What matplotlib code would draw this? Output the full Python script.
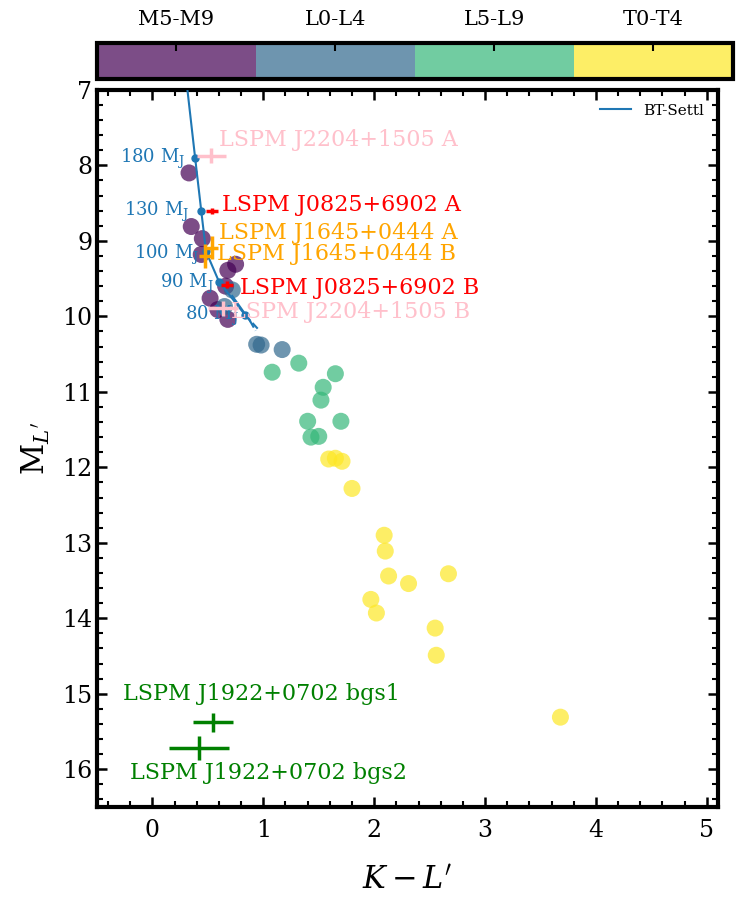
import numpy as np
import matplotlib
matplotlib.use("Agg")
import matplotlib.pyplot as plt
from matplotlib.colors import ListedColormap, BoundaryNorm

plt.rcParams['font.family'] = ['DejaVu Serif']
plt.rcParams['mathtext.fontset'] = 'dejavuserif'

# field dwarfs: K-L' colour, absolute L' magnitude, spectral class index
spt_names = ['M5-M9', 'L0-L4', 'L5-L9', 'T0-T4']
kl_m = [0.33, 0.35, 0.45, 0.44, 0.75, 0.68, 0.66, 0.52, 0.59, 0.68]
ml_m = [8.10, 8.81, 8.97, 9.18, 9.31, 9.39, 9.60, 9.76, 9.91, 10.04]
kl_l0 = [0.72, 0.65, 0.94, 0.98, 1.17]
ml_l0 = [9.65, 9.87, 10.37, 10.38, 10.44]
kl_l5 = [1.08, 1.32, 1.65, 1.54, 1.52, 1.40, 1.70, 1.43, 1.50]
ml_l5 = [10.74, 10.62, 10.76, 10.94, 11.11, 11.39, 11.39, 11.60, 11.59]
kl_t = [1.59, 1.65, 1.71, 1.80, 2.09, 2.10, 2.13, 2.31, 2.67, 1.97, 2.02, 2.55, 2.56, 3.68]
ml_t = [11.89, 11.88, 11.92, 12.28, 12.90, 13.11, 13.44, 13.54, 13.41, 13.75, 13.93, 14.13, 14.49, 15.31]

# BT-Settl track
track_kl = [0.30, 0.385, 0.44, 0.483, 0.60, 0.835]
track_ml = [6.8, 7.90, 8.60, 9.14, 9.54, 9.98]
track_mass = [None, 180, 130, 100, 90, 80]
track_end_kl = [0.835, 0.96]
track_end_ml = [9.98, 10.18]
track2_kl = [0.72, 0.88]
track2_ml = [9.73, 10.06]
track2_end_kl = [0.88, 0.93]
track2_end_ml = [10.06, 10.19]

# targets with error bars
tgt_names = ['LSPM J2204+1505 A', 'LSPM J0825+6902 A', 'LSPM J1645+0444 A',
             'LSPM J1645+0444 B', 'LSPM J0825+6902 B', 'LSPM J2204+1505 B',
             'LSPM J1922+0702 bgs1', 'LSPM J1922+0702 bgs2']
tgt_kl = [0.53, 0.535, 0.537, 0.477, 0.67, 0.633, 0.55, 0.42]
tgt_ml = [7.87, 8.61, 9.09, 9.20, 9.58, 9.89, 15.38, 15.72]
tgt_xerr = [0.13, 0.055, 0.05, 0.06, 0.055, 0.135, 0.18, 0.275]
tgt_yerr = [0.10, 0.04, 0.155, 0.155, 0.05, 0.10, 0.12, 0.16]
tgt_colors = ['pink', 'red', 'orange', 'orange', 'red', 'pink', 'green', 'green']

# label placement (layout only)
lbl_pos = [(0.60, 7.67, 'left'), (0.63, 8.53, 'left'), (0.60, 8.89, 'left'),
           (0.585, 9.17, 'left'), (0.79, 9.62, 'left'), (0.71, 9.94, 'left'),
           (0.98, 15.0, 'center'), (1.05, 16.05, 'center')]
mass_lbl_pos = [None, (0.30, 7.92), (0.33, 8.62), (0.42, 9.18), (0.55, 9.57), (0.78, 9.99)]

vir = plt.get_cmap('viridis')
cmap = ListedColormap([vir(v) for v in np.linspace(0, 1, 4)])
norm = BoundaryNorm([-0.5, 0.5, 1.5, 2.5, 3.5], 4)

kl_all = kl_m + kl_l0 + kl_l5 + kl_t
ml_all = ml_m + ml_l0 + ml_l5 + ml_t
cls_all = [0] * len(kl_m) + [1] * len(kl_l0) + [2] * len(kl_l5) + [3] * len(kl_t)

fig = plt.figure(figsize=(7.48, 9.10), dpi=100)
ax = fig.add_axes([0.1297, 0.1132, 0.830, 0.788])
cax = fig.add_axes([0.1297, 0.9132, 0.850, 0.0396])

sc = ax.scatter(kl_all, ml_all, c=cls_all, cmap=cmap, norm=norm, s=150,
                alpha=0.7, edgecolors='none', zorder=2)

ax.plot(track_kl, track_ml, color='tab:blue', lw=1.5, label='BT-Settl', zorder=3)
ax.plot(track_end_kl, track_end_ml, color='tab:blue', lw=1.5, ls='--', zorder=3)
ax.plot(track2_kl, track2_ml, color='tab:blue', lw=1.5, zorder=3)
ax.plot(track2_end_kl, track2_end_ml, color='tab:blue', lw=1.5, ls='--', zorder=3)
ax.plot(track_kl[1:], track_ml[1:], 'o', color='tab:blue', ms=5, zorder=3)
for m, pos in zip(track_mass, mass_lbl_pos):
    if m is None:
        continue
    ax.text(pos[0], pos[1], '%d M$_\\mathrm{J}$' % m, color='tab:blue',
            fontsize=13, ha='right', va='center', zorder=4)

for i in range(len(tgt_names)):
    ax.errorbar(tgt_kl[i], tgt_ml[i], xerr=tgt_xerr[i], yerr=tgt_yerr[i],
                color=tgt_colors[i], lw=2.5, fmt='none', zorder=5)
    x, y, ha = lbl_pos[i]
    ax.text(x, y, tgt_names[i], color=tgt_colors[i], fontsize=16,
            ha=ha, va='center', zorder=5)

ax.set_xlim(-0.5, 5.1)
ax.set_ylim(16.5, 7)
ax.set_xticks([0, 1, 2, 3, 4, 5])
ax.set_yticks(range(7, 17))
ax.xaxis.set_minor_locator(matplotlib.ticker.MultipleLocator(0.2))
ax.yaxis.set_minor_locator(matplotlib.ticker.MultipleLocator(0.2))
ax.tick_params(which='both', direction='in', top=True, right=True, labelsize=17)
ax.tick_params(which='major', length=7, width=1.8)
ax.tick_params(which='minor', length=4, width=1.5)
ax.tick_params(axis='x', which='major', pad=9)
for sp in ax.spines.values():
    sp.set_linewidth(3)
ax.set_xlabel("$K-L'$", fontsize=22, labelpad=16)
ax.set_ylabel("M$_{L'}$", fontsize=22, labelpad=7)
ax.legend(loc='upper right', frameon=False, fontsize=11)

cb = fig.colorbar(sc, cax=cax, orientation='horizontal', ticks=[0, 1, 2, 3])
cb.set_ticklabels(spt_names)
cax.xaxis.set_ticks_position('top')
cax.xaxis.set_label_position('top')
cax.tick_params(direction='in', length=6, width=1.5, labelsize=15, pad=10)
cb.outline.set_linewidth(3)
cax.minorticks_off()

fig.savefig('out.png', dpi=100)
